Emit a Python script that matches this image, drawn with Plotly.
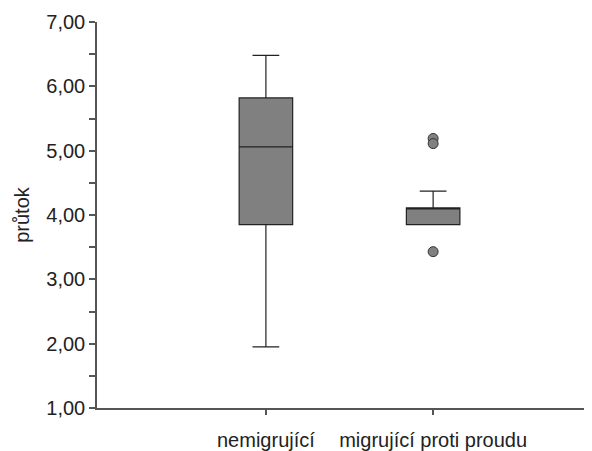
import plotly.graph_objects as go

categories = ["nemigrující", "migrující proti proudu"]
q1 = [3.85, 3.85]
median = [5.06, 4.10]
q3 = [5.82, 4.11]
lower_fence = [1.95, 3.85]
upper_fence = [6.48, 4.37]
outlier_cats = ["migrující proti proudu", "migrující proti proudu", "migrující proti proudu"]
outlier_vals = [5.19, 5.11, 3.43]

FONT = "Liberation Sans, Arial, sans-serif"

fig = go.Figure()
fig.add_trace(go.Box(
    x=categories, q1=q1, median=median, q3=q3,
    lowerfence=lower_fence, upperfence=upper_fence,
    fillcolor="#808080", line=dict(color="#222222", width=1.2),
    width=0.32, whiskerwidth=0.5, boxpoints=False, showlegend=False,
    hoverinfo="skip",
))
fig.add_trace(go.Scatter(
    x=outlier_cats, y=outlier_vals, mode="markers",
    marker=dict(size=10, color="#808080", line=dict(color="#333333", width=1)),
    showlegend=False, hoverinfo="skip",
))

fig.update_layout(
    width=584, height=443,
    margin=dict(l=89, r=0, t=14, b=33),
    paper_bgcolor="white", plot_bgcolor="white",
    separators=", ",
    font=dict(family=FONT, size=20, color="#222222"),
)
fig.update_xaxes(
    type="category", categoryorder="array", categoryarray=categories,
    range=[-1.01, 1.95],
    showline=True, linecolor="#555555", linewidth=1.5,
    ticks="outside", ticklen=5, tickcolor="#555555", tickwidth=1.5,
    ticklabelstandoff=8,
    showgrid=False, zeroline=False,
    tickfont=dict(size=20),
)
fig.update_yaxes(
    range=[1, 7], tickvals=[1, 2, 3, 4, 5, 6, 7], tickformat=".2f",
    showline=True, linecolor="#555555", linewidth=1.5,
    ticks="outside", ticklen=6, tickcolor="#555555", tickwidth=1.5,
    minor=dict(tickvals=[1.5, 2.5, 3.5, 4.5, 5.5, 6.5], ticks="outside", ticklen=6,
               tickcolor="#555555", tickwidth=1.5),
    showgrid=False, zeroline=False,
    title=dict(text="průtok", standoff=11, font=dict(size=20)),
    tickfont=dict(size=20),
)

fig.write_html("out.html")
